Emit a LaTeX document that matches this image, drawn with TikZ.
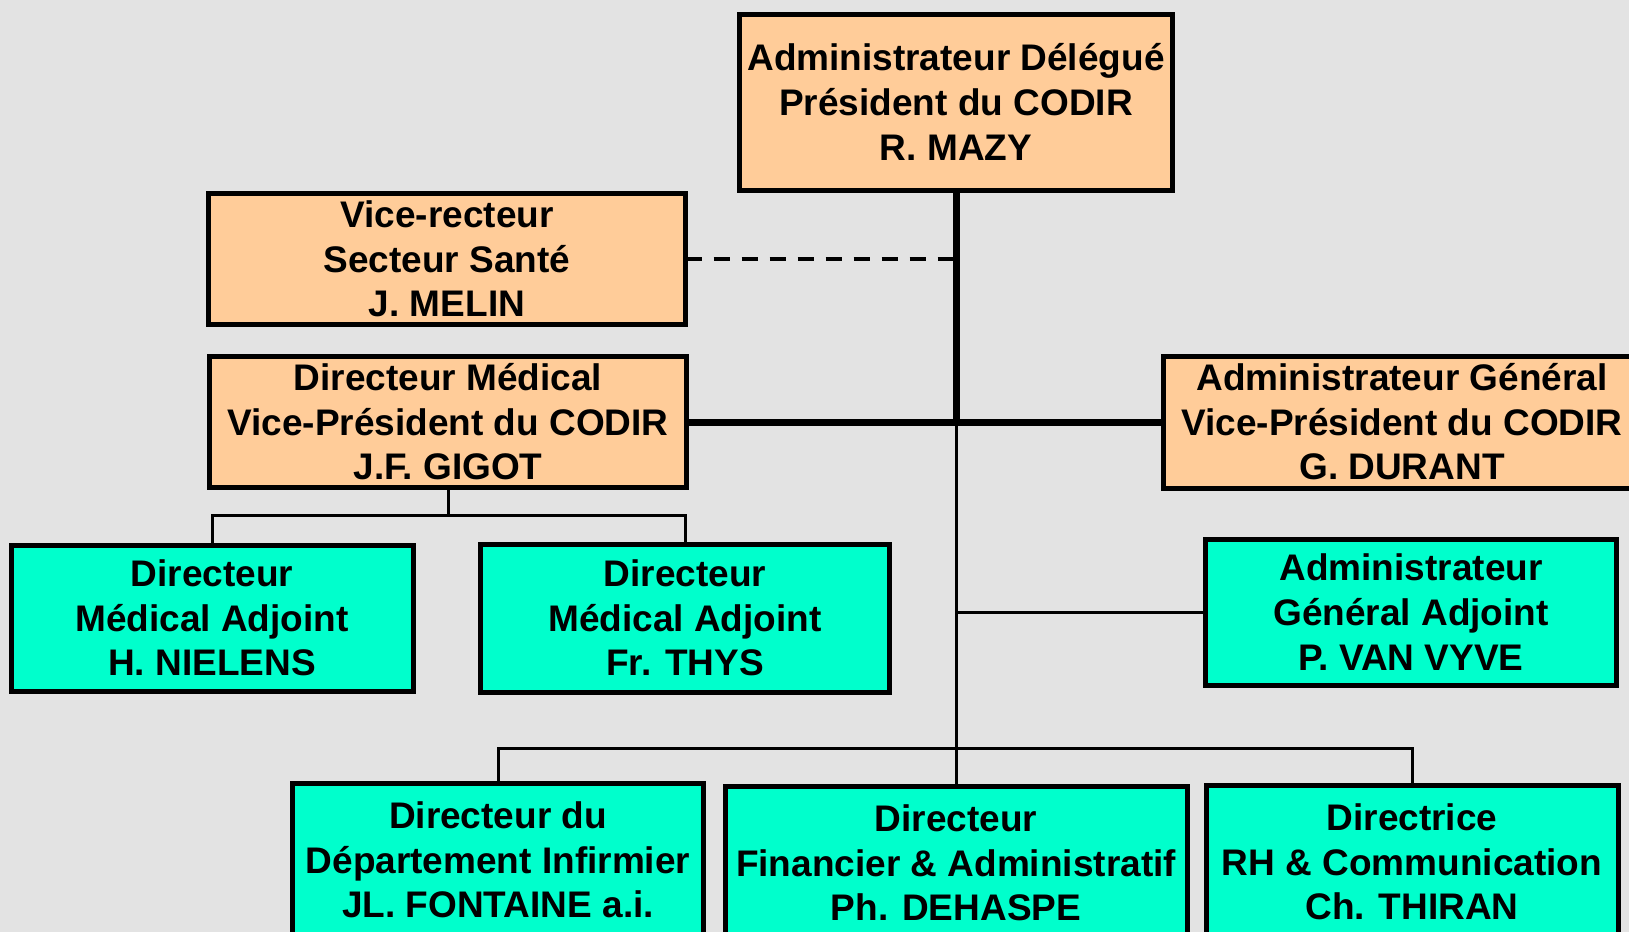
\documentclass[tikz,border=0pt]{standalone}
\usepackage{fontspec}
\setmainfont{Liberation Sans}
\newcommand*{\boxfont}{\fontsize{18.5}{22.3}\selectfont\bfseries}
\definecolor{backgrey}{RGB}{227,227,227}
\definecolor{peach}{RGB}{255,204,153}
\definecolor{aqua}{RGB}{0,255,204}
\usetikzlibrary{positioning}
\tikzstyle{base}=[x=0.5pt, y=-0.5pt, inner sep=0pt, outer sep=0pt]
\tikzstyle{chief}=[draw=black, line width=2.5pt, fill=peach, align=center, font=\boxfont]
\tikzstyle{deputy}=[draw=black, line width=2.5pt, fill=aqua, align=center, font=\boxfont]
\tikzstyle{thickline}=[line width=3.5pt]
\tikzstyle{thinline}=[line width=1.5pt]
\tikzstyle{dashline}=[line width=2.3pt, dash pattern=on 8pt off 6pt]

\begin{document}
\begin{tikzpicture}[base]
    \path [use as bounding box] (0,0) rectangle (1629,932);
    \fill [backgrey] (0,0) rectangle (1629,932);
    \clip (0,0) rectangle (1629,932);
    % direction
    \node [chief, minimum width=216.5pt, minimum height=88pt] (delegue) at (956,102) {Administrateur Délégué\\Président du CODIR\\R. MAZY};
    \node [chief, minimum width=238.5pt, minimum height=65.5pt] (vicerect) at (447,259) {Vice-recteur\\Secteur Santé\\J. MELIN};
    \node [chief, minimum width=238.5pt, minimum height=65.5pt] (dirmed) at (448,422) {Directeur Médical\\Vice-Président du CODIR\\J.F. GIGOT};
    \node [chief, minimum width=238.5pt, minimum height=66pt] (admgen) at (1402,422) {Administrateur Général\\Vice-Président du CODIR\\G. DURANT};
    % adjoints
    \node [deputy, minimum width=201pt, minimum height=73pt] (nielens) at (212,618) {Directeur\\Médical Adjoint\\H. NIELENS};
    \node [deputy, minimum width=204.5pt, minimum height=74pt] (thys) at (685,618) {Directeur\\Médical Adjoint\\Fr. THYS};
    \node [deputy, minimum width=205.5pt, minimum height=73pt] (admadj) at (1411,612) {Administrateur\\Général Adjoint\\P. VAN VYVE};
    % directions
    \node [deputy, minimum width=205.5pt, minimum height=77pt] (fontaine) at (498,860) {Directeur du\\Département Infirmier\\JL. FONTAINE a.i.};
    \node [deputy, minimum width=231pt, minimum height=77pt] (dehaspe) at (956,863) {Directeur\\Financier \& Administratif\\Ph. DEHASPE};
    \node [deputy, minimum width=206pt, minimum height=77pt] (thiran) at (1412,862) {Directrice\\RH \& Communication\\Ch. THIRAN};
    % liens
    \coordinate (hub) at (delegue.south |- dirmed.east);
    \coordinate (medfork) at (448,515);
    \coordinate (bus) at (956,748);
    \draw [thickline] (delegue.south) -- (hub);
    \draw [thickline] (dirmed.east) -- (admgen.west);
    \draw [dashline] (vicerect.east) -- (vicerect.east -| delegue.south);
    \draw [thinline] (hub) -- (dehaspe.north);
    \draw [thinline] (hub |- admadj.west) -- (admadj.west);
    \draw [thinline] (dirmed.south) -- (medfork);
    \draw [thinline] (nielens.north) |- (medfork) -| (thys.north);
    \draw [thinline] (fontaine.north) |- (bus) -| (thiran.north);
\end{tikzpicture}
\end{document}
